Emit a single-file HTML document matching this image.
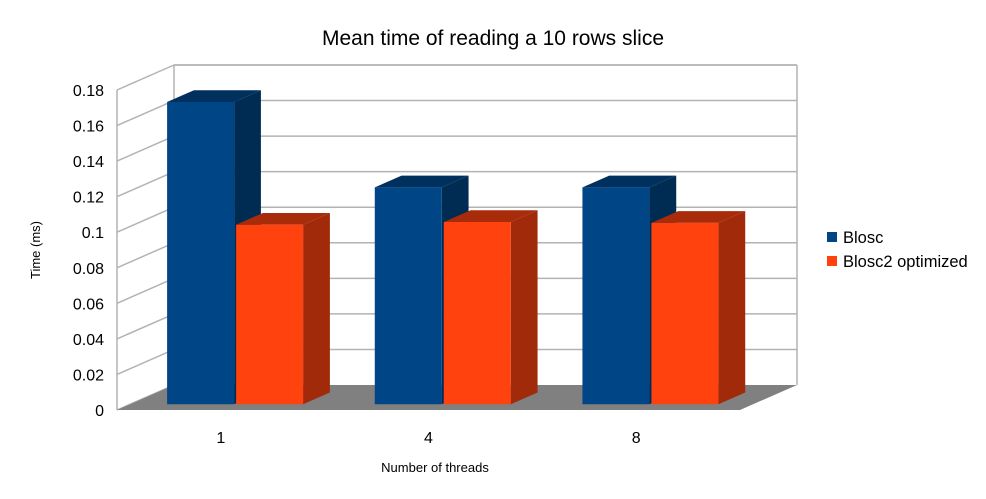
<!DOCTYPE html>
<html><head><meta charset="utf-8"><style>
body{margin:0;background:#fff;}
svg{display:block;font-family:"Liberation Sans",sans-serif;}
</style></head><body>
<svg id="chart" width="986" height="499" viewBox="0 0 986 499">
<rect width="986" height="499" fill="#fff"/>
<text x="493" y="45" text-anchor="middle" font-size="21" fill="#000">Mean time of reading a 10 rows slice</text>
<text x="40" y="250" text-anchor="middle" font-size="13" transform="rotate(-90 40 250)">Time (ms)</text>
<text x="435" y="472" text-anchor="middle" font-size="13">Number of threads</text>
<g id="plot"></g>
<g>
<g><rect x="827" y="232" width="10" height="10" fill="#004586"/><text x="843" y="243" font-size="16.5">Blosc</text></g>
<g><rect x="827" y="256" width="10" height="10" fill="#ff420e"/><text x="843" y="267" font-size="16.5">Blosc2 optimized</text></g>
</g>
</svg>
<script>
const categories=["1","4","8"];
const seriesBlosc=[0.17,0.122,0.122];
const seriesBlosc2=[0.101,0.1025,0.102];
const yTicks=[0,0.02,0.04,0.06,0.08,0.1,0.12,0.14,0.16,0.18];
const yTickLabels=["0","0.02","0.04","0.06","0.08","0.1","0.12","0.14","0.16","0.18"];
const yMax=0.18;
const NS="http://www.w3.org/2000/svg";
const g=document.getElementById('plot');
const X0=117,X1=740,Y0=410,H=320,DX=57,DY=-25;
function yv(v){return H*v/yMax;}
function pt(x,v,d){return [x+DX*d, Y0-yv(v)+DY*d];}
function poly(pts,fill,stroke,name){
  const p=document.createElementNS(NS,'polygon');
  p.setAttribute('points',pts.map(a=>a.join(',')).join(' '));
  p.setAttribute('fill',fill);
  if(stroke){p.setAttribute('stroke',stroke);p.setAttribute('stroke-width','1');}
  
  
  g.appendChild(p);return p;
}
function line(a,b,name){
  const l=document.createElementNS(NS,'line');
  l.setAttribute('x1',a[0]);l.setAttribute('y1',a[1]);l.setAttribute('x2',b[0]);l.setAttribute('y2',b[1]);
  l.setAttribute('stroke','#b3b3b3');l.setAttribute('stroke-width','1.5');
  
  
  g.appendChild(l);
}
poly([pt(X0,0,1),pt(X1,0,1),pt(X1,yMax,1),pt(X0,yMax,1)],'#fff',null,'back-wall');
poly([pt(X0,0,0),pt(X0,0,1),pt(X0,yMax,1),pt(X0,yMax,0)],'#fff',null,'side-wall');
yTicks.forEach((v,i)=>{
  line(pt(X0,v,0),pt(X0,v,1),'side-gridline');
  if(v>0) line(pt(X0,v,1),pt(X1,v,1),'back-gridline');
  const t=document.createElementNS(NS,'text');
  const p=pt(X0,v,0);
  t.setAttribute('x',104);t.setAttribute('y',p[1]+6);
  t.setAttribute('text-anchor','end');t.setAttribute('font-size','16');
  t.textContent=yTickLabels[i];
  
  
  g.appendChild(t);
});
line(pt(X0,0,0),pt(X0,yMax,0),'y-axis-line');
line(pt(X0,yMax,1),pt(X0,0,1),'wall-corner');
line(pt(X1,yMax,1),pt(X1,0,1),'back-wall-edge');
line(pt(X0,yMax,1),pt(X1,yMax,1),'back-wall-top');
poly([pt(X0,0,0),pt(X1,0,0),pt(X1,0,1),pt(X0,0,1)],'#808080',null,'floor');
const slot=(X1-X0)/categories.length;
const bw=67,gap=2,off=37,d0=0.23,d1=0.7;
function bar(x,v,front,side,top,name){
  poly([pt(x+bw,0,d0),pt(x+bw,0,d1),pt(x+bw,v,d1),pt(x+bw,v,d0)],side,null,name+'-side');
  poly([pt(x,v,d0),pt(x+bw,v,d0),pt(x+bw,v,d1),pt(x,v,d1)],top,null,name+'-top');
  poly([pt(x,0,d0),pt(x+bw,0,d0),pt(x+bw,v,d0),pt(x,v,d0)],front,null,name);
}
categories.forEach((c,i)=>{
  const x=X0+slot*i+off;
  bar(x,seriesBlosc[i],'#004586','#002b53','#00305d','bar-blosc-'+c);
  bar(x+bw+gap,seriesBlosc2[i],'#ff420e','#a02a0a','#a82c0a','bar-blosc2-'+c);
  const t=document.createElementNS(NS,'text');
  t.setAttribute('x',X0+slot*(i+0.5));t.setAttribute('y',443);
  t.setAttribute('text-anchor','middle');t.setAttribute('font-size','16');
  t.textContent=c;
  
  
  g.appendChild(t);
});
</script>
</body></html>
